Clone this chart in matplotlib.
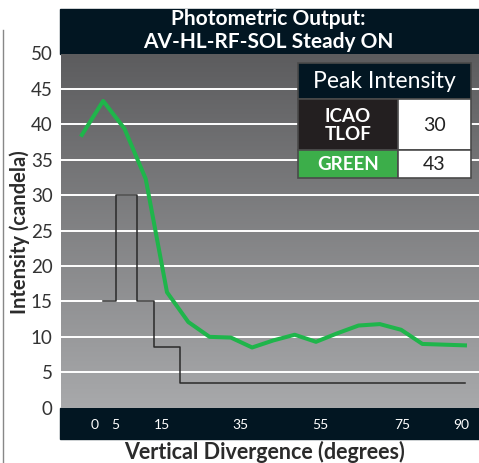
import numpy as np
import matplotlib
matplotlib.use("Agg")
import matplotlib.pyplot as plt
from matplotlib.colors import LinearSegmentedColormap
from matplotlib.patches import Rectangle
from matplotlib.lines import Line2D

# --- data ---
green_deg = [0, 5, 10, 15, 20, 25, 30, 35, 40, 45, 50, 55, 60, 65, 70, 75, 80, 85, 90]
green_cd = [38.5, 43.3, 39.4, 32.3, 16.3, 12.1, 10.0, 9.9, 8.5, 9.5, 10.3, 9.3,
            10.5, 11.6, 11.8, 11.0, 9.0, 8.9, 8.8]
icao_edges = [5, 8, 13, 17, 23, 90]
icao_levels = [15, 30, 15, 8.5, 3.5]
tick_labels = ["0", "5", "15", "35", "55", "75", "90"]
tick_pos = [3.1, 7.8, 18.9, 37.2, 56.1, 75.3, 89.2]   # where the labels sit in the original
table_names = ["ICAO\nTLOF", "GREEN"]
table_peaks = [max(icao_levels), round(max(green_cd))]

W, H = 479, 463
FONT = "Lato"
navy = "#021622"

fig = plt.figure(figsize=(W / 100, H / 100), dpi=100)
fig.patch.set_facecolor("white")

def fx(px):
    return px / W

def fy(py):
    return 1 - py / H

# axes: gray area from x=61 to right edge, y=53.5 to 407.7 px
ax = fig.add_axes([fx(61), fy(407.7), 1 - fx(61), fy(53.5) - fy(407.7)])
xmin, xmax = -4.9, 93.3
ax.set_xlim(xmin, xmax)
ax.set_ylim(0, 50)

# vertical gray gradient background
cmap = LinearSegmentedColormap.from_list("bg", ["#a8a9ab", "#5c5c5e"])
grad = np.linspace(0, 1, 256).reshape(-1, 1)
ax.imshow(grad, extent=[xmin, xmax, 0, 50], origin="lower", aspect="auto",
          cmap=cmap, zorder=0)

for y in range(5, 50, 5):
    ax.axhline(y, color="white", lw=1.4, zorder=1)

# ICAO TLOF step line
step_x = np.repeat(icao_edges, 2)[1:-1]
step_y = np.repeat(icao_levels, 2)
ax.plot(step_x, step_y, color="#2a2a2a", lw=1.1, zorder=2)

# green measured curve
ax.plot(green_deg, green_cd, color="#1fb54b", lw=2.9, zorder=3)

for s in ax.spines.values():
    s.set_visible(False)
ax.set_yticks(range(0, 51, 5))
ax.tick_params(axis="y", length=0, pad=6, labelsize=13.5, labelcolor="#333333")
ax.set_xticks(tick_pos, tick_labels)
ax.tick_params(axis="x", length=0, pad=8, labelsize=10, labelcolor="white")
for lab in ax.get_yticklabels() + ax.get_xticklabels():
    lab.set_fontfamily(FONT)

# dark title band and dark x-axis band
fig.add_artist(Rectangle((fx(60), fy(54)), 1 - fx(60), fy(9) - fy(54),
                         transform=fig.transFigure, color=navy, zorder=0))
fig.add_artist(Rectangle((fx(60), fy(439)), 1 - fx(60), fy(407.5) - fy(439),
                         transform=fig.transFigure, color=navy, zorder=0))
ax.set_zorder(1)
ax.patch.set_alpha(0)

fig.text(fx(268), fy(19), "Photometric Output:", color="white", ha="center", va="center",
         fontsize=15, fontweight="bold", family=FONT)
fig.text(fx(268), fy(42), "AV-HL-RF-SOL Steady ON", color="white", ha="center", va="center",
         fontsize=15, fontweight="bold", family=FONT)

fig.text(fx(265), fy(452), "Vertical Divergence (degrees)", color="#2b2b2b", ha="center",
         va="center", fontsize=15.5, fontweight="bold", family=FONT)
fig.text(fx(20), fy(232), "Intensity (candela)", color="#2b2b2b", ha="center",
         va="center", rotation=90, fontsize=14.5, fontweight="bold", family=FONT)

# cropped frame line at the far left
fig.add_artist(Line2D([fx(2.5), fx(2.5)], [fy(30), 0], transform=fig.transFigure,
                      color="#888888", lw=1.0))

# peak intensity table
x0, x1, x2 = 298, 398, 471
y0, y1, y2, y3 = 63, 99, 150, 178
cells = [
    (x0, y0, x2, y1, navy),
    (x0, y1, x1, y2, "#231f20"),
    (x1, y1, x2, y2, "white"),
    (x0, y2, x1, y3, "#3cae4a"),
    (x1, y2, x2, y3, "white"),
]
for a, b, c, d, col in cells:
    fig.add_artist(Rectangle((fx(a), fy(d)), fx(c) - fx(a), fy(b) - fy(d),
                             transform=fig.transFigure, facecolor=col,
                             edgecolor="#4a4a4a", lw=1.2, zorder=5))
fig.text(fx((x0 + x2) / 2), fy((y0 + y1) / 2 + 1), "Peak Intensity", color="white",
         ha="center", va="center", fontsize=16.5, family=FONT, zorder=6)
row_bounds = [(y1, y2), (y2, y3)]
for name, peak, (ra, rb) in zip(table_names, table_peaks, row_bounds):
    yc = fy((ra + rb) / 2 + 1)
    fig.text(fx((x0 + x1) / 2), yc, name, color="white", ha="center", va="center",
             fontsize=13.5, fontweight="bold", family=FONT, linespacing=1.0, zorder=6)
    fig.text(fx((x1 + x2) / 2), yc, str(peak), color="#222222", ha="center", va="center",
             fontsize=14, family=FONT, zorder=6)

fig.savefig("out.png", dpi=100)
